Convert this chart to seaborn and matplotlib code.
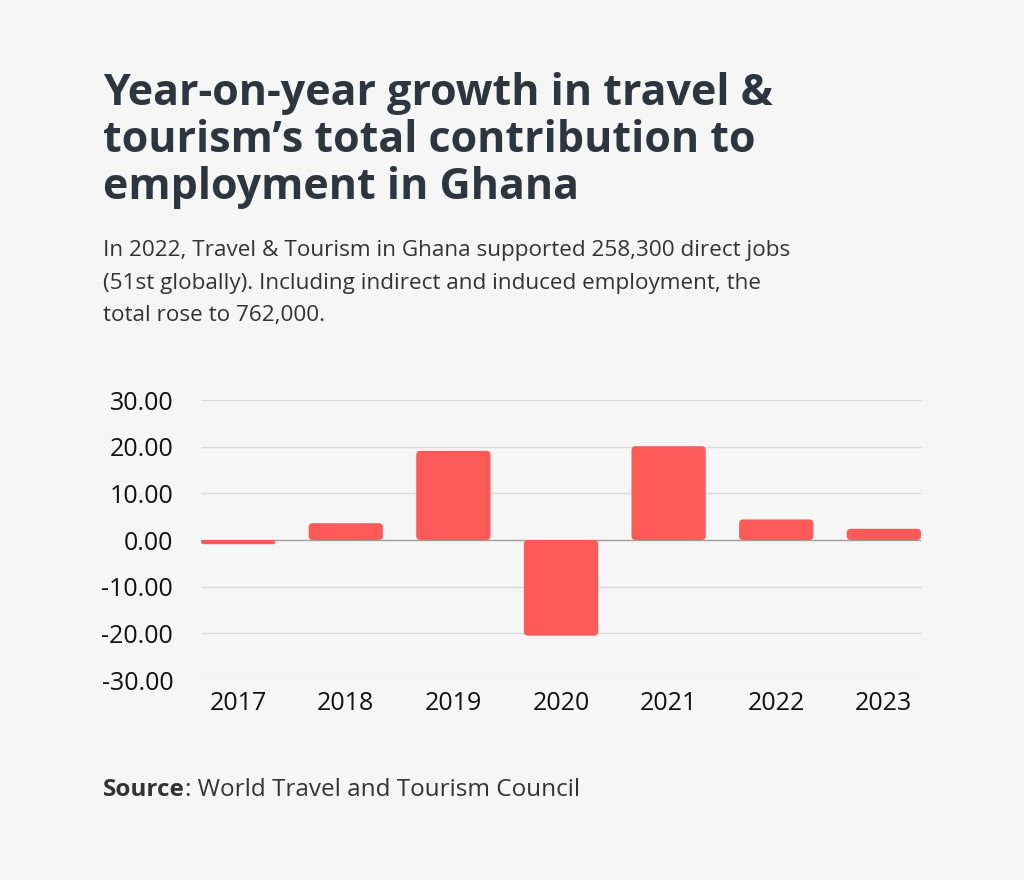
import matplotlib
matplotlib.use("Agg")
import matplotlib.pyplot as plt
from matplotlib.patches import FancyBboxPatch
import pandas as pd
import seaborn as sns

# data
years = ["2017", "2018", "2019", "2020", "2021", "2022", "2023"]
growth = [-0.9, 3.6, 19.1, -20.5, 20.1, 4.4, 2.4]
yticks = [30, 20, 10, 0, -10, -20, -30]

title = "Year-on-year growth in travel &\ntourism\u2019s total contribution to\nemployment in Ghana"
subtitle = ("In 2022, Travel & Tourism in Ghana supported 258,300 direct jobs\n"
            "(51st globally). Including indirect and induced employment, the\n"
            "total rose to 762,000.")

bg = "#f6f6f6"
bar_color = "#ff5a5a"
dark = "#2f353f"

sns.set_theme(style="white")
plt.rcParams["font.family"] = ["Open Sans", "DejaVu Sans"]

df = pd.DataFrame({"year": years, "growth": growth})

fig = plt.figure(figsize=(10.24, 8.8), dpi=100, facecolor=bg)
ax = fig.add_axes([201 / 1024, 1 - 680 / 880, 720 / 1024, 280 / 880])
ax.set_facecolor(bg)

sns.barplot(data=df, x="year", y="growth", color=bar_color, saturation=1,
            width=0.69, linewidth=0, ax=ax, zorder=3)

ax.set_ylim(-30, 30)
ax.set_xlim(-0.345, len(years) - 1 + 0.345)

# swap the plain bars for slightly rounded ones
px_x = 720 / (len(years) - 1 + 0.69)   # pixels per x unit
px_y = 280 / 60                        # pixels per y unit
for p in list(ax.patches):
    x0, y0, w, h = p.get_x(), p.get_y(), p.get_width(), p.get_height()
    if h < 0:
        y0, h = y0 + h, -h
    r_px = min(4, h * px_y / 2)
    rb = FancyBboxPatch((x0, y0), w, h,
                        boxstyle=f"round,pad=0,rounding_size={r_px / px_x}",
                        mutation_aspect=px_x / px_y,
                        facecolor=bar_color, edgecolor="none", zorder=3)
    p.remove()
    ax.add_patch(rb)

ax.set_yticks(yticks)
ax.set_yticklabels([f"{v:.2f}" for v in yticks])
for v in yticks:
    col = "#a0a0a0" if v == 0 else ("#ececec" if v == -30 else "#dadada")
    ax.axhline(v, color=col, lw=1, zorder=1)

ax.set_xlabel("")
ax.set_ylabel("")
sns.despine(ax=ax, left=True, bottom=True)
ax.tick_params(axis="both", length=0, labelsize=18, colors="#111111")
ax.tick_params(axis="y", pad=20)
ax.tick_params(axis="x", pad=8)

fig.text(103 / 1024, 1 - 72 / 880, title, fontsize=31, fontweight="bold",
         color=dark, va="top", ha="left", linespacing=1.12)
fig.text(103 / 1024, 1 - 240 / 880, subtitle, fontsize=16.2, color="#333333",
         va="top", ha="left", linespacing=1.72)

src = fig.text(103 / 1024, 1 - 790 / 880, "Source", fontsize=17.5, fontweight="bold",
               color="#333333", va="center", ha="left")
fig.canvas.draw()
bb = src.get_window_extent()
fig.text(bb.x1 / 1024, 1 - 790 / 880, ": World Travel and Tourism Council",
         fontsize=17.5, color="#333333", va="center", ha="left")

fig.savefig("out.png", dpi=100, facecolor=bg)
